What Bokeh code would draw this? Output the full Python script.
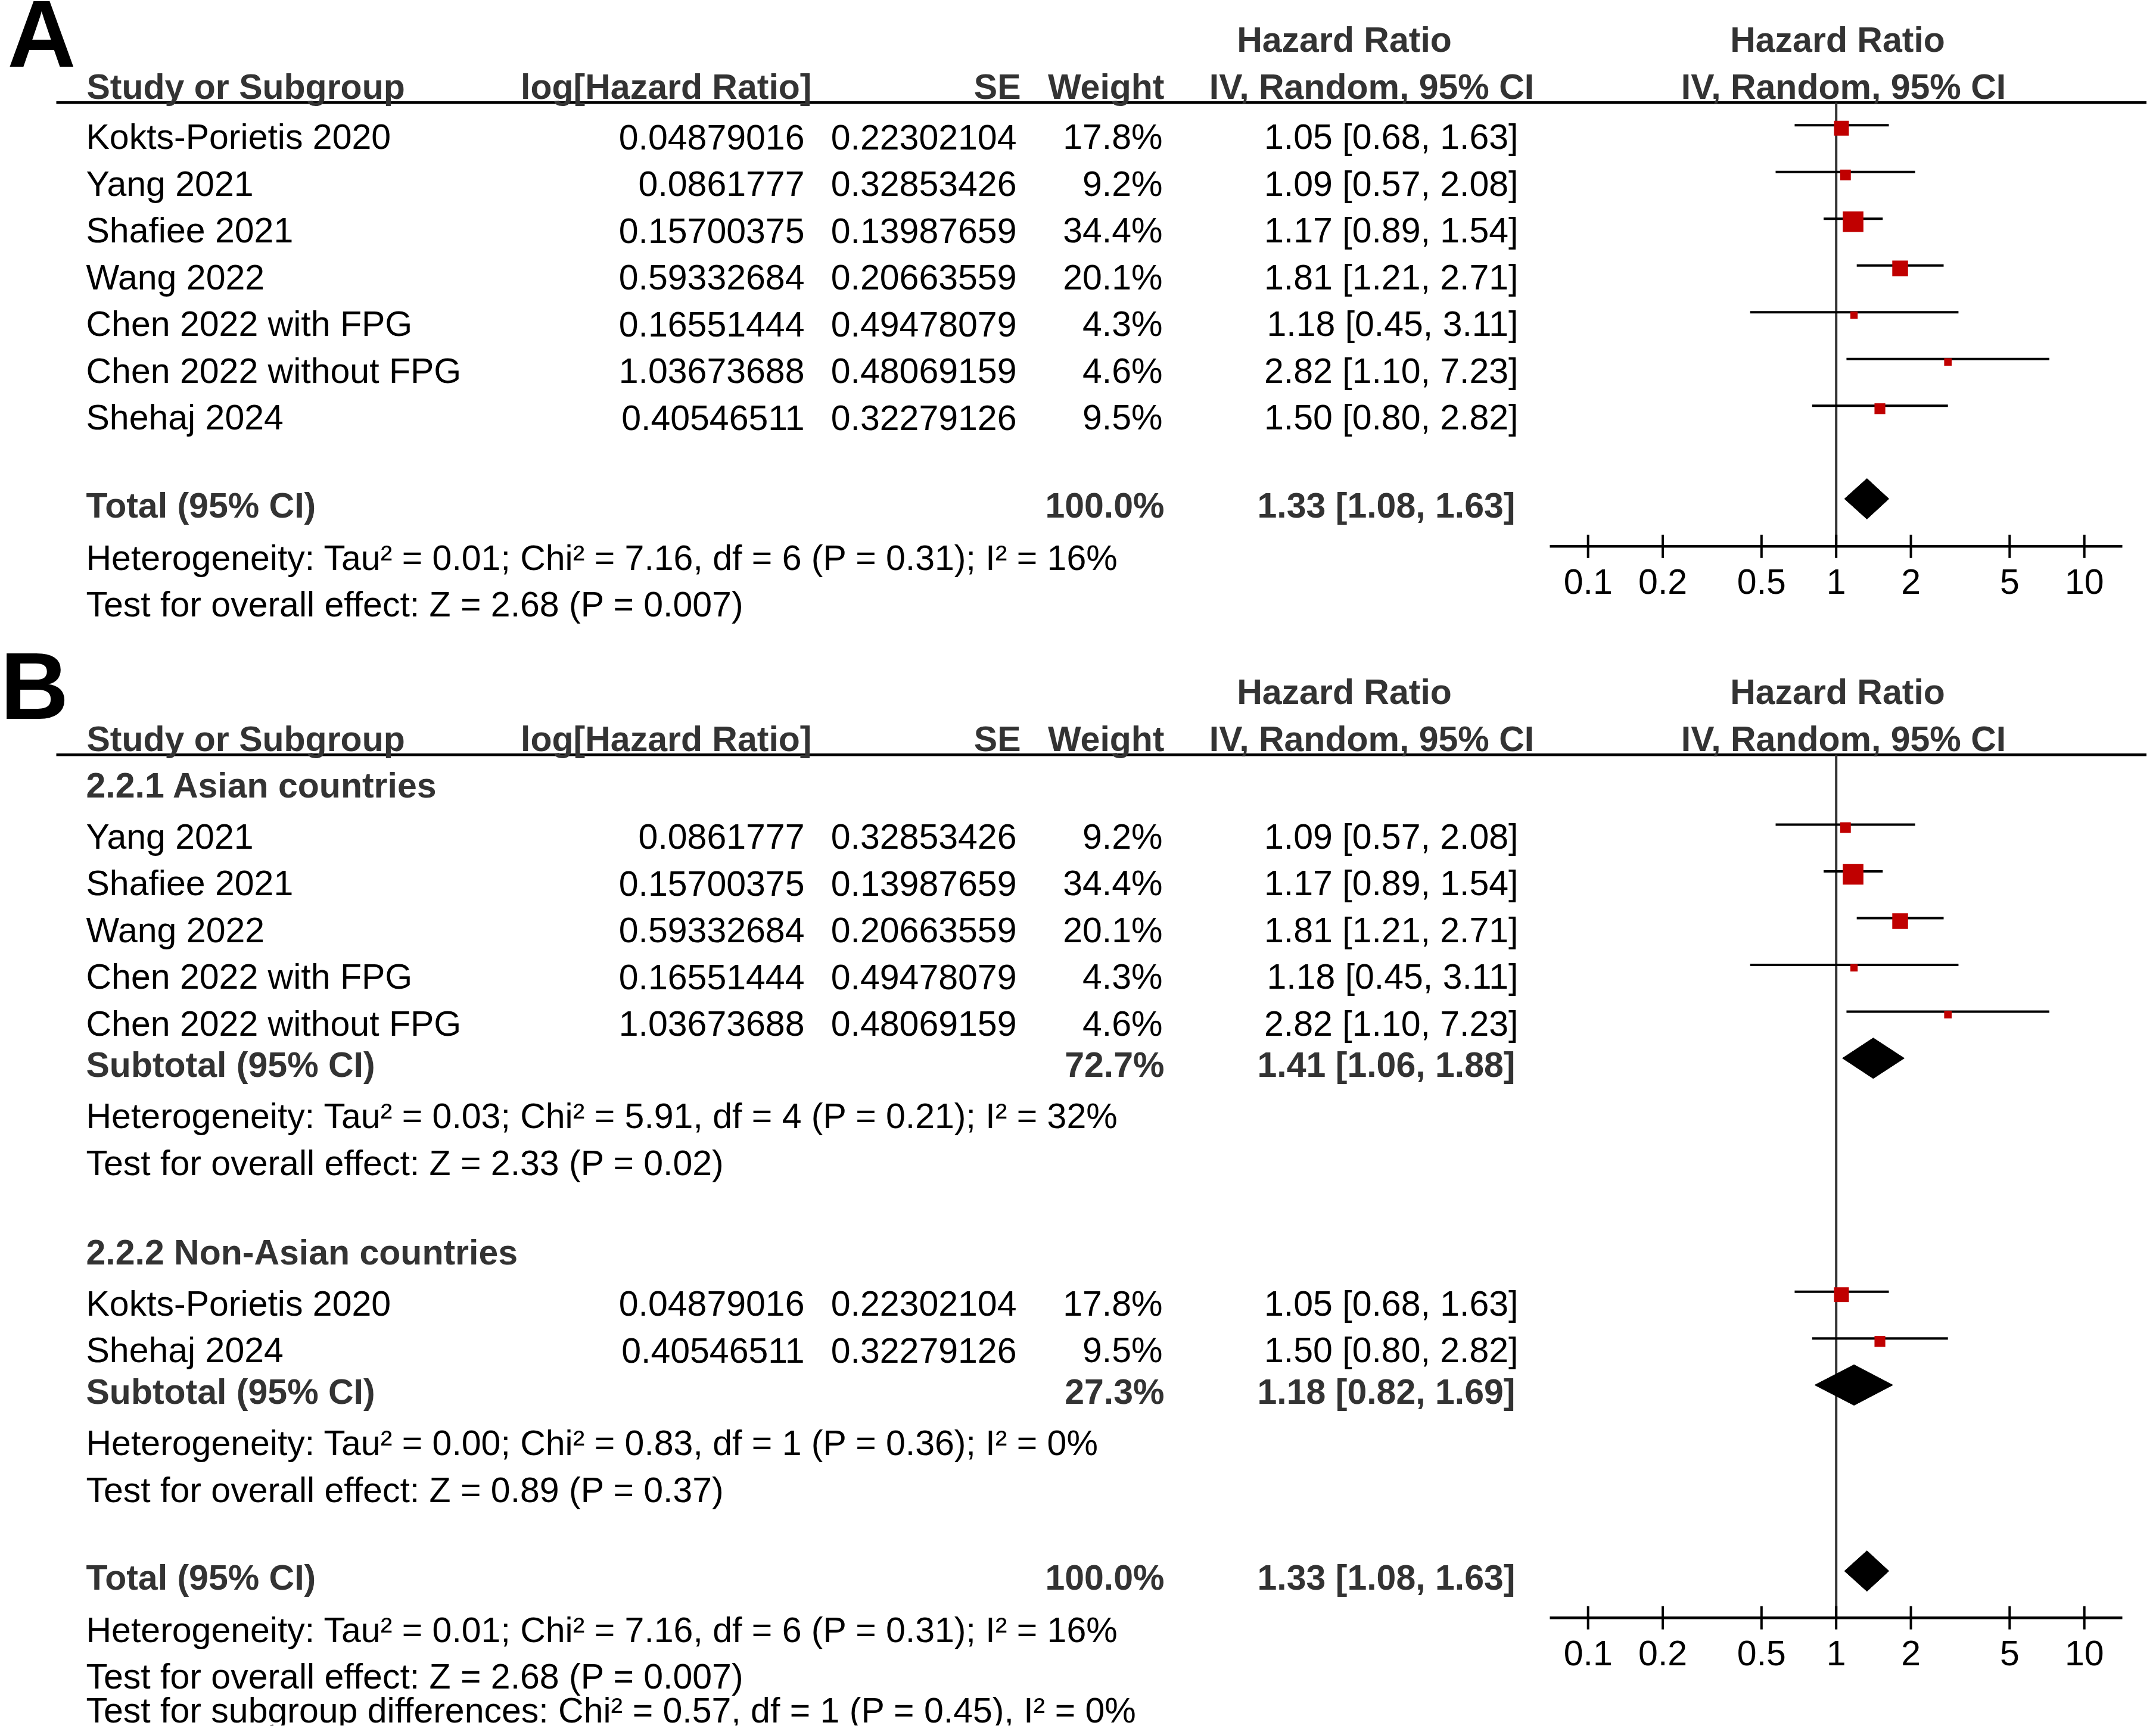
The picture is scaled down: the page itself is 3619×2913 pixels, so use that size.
import math
from bokeh.plotting import figure
from bokeh.models import Range1d, LogScale, ColumnDataSource
from bokeh.core.properties import value
from bokeh.embed import file_html
from bokeh.resources import INLINE

# ---------------- data ----------------
studies = ["Kokts-Porietis 2020", "Yang 2021", "Shafiee 2021", "Wang 2022",
           "Chen 2022 with FPG", "Chen 2022 without FPG", "Shehaj 2024"]
log_hr = [0.04879016, 0.0861777, 0.15700375, 0.59332684, 0.16551444, 1.03673688, 0.40546511]
se = [0.22302104, 0.32853426, 0.13987659, 0.20663559, 0.49478079, 0.48069159, 0.32279126]
weight = [17.8, 9.2, 34.4, 20.1, 4.3, 4.6, 9.5]
hr = [1.05, 1.09, 1.17, 1.81, 1.18, 2.82, 1.50]
ci_low = [0.68, 0.57, 0.89, 1.21, 0.45, 1.10, 0.80]
ci_high = [1.63, 2.08, 1.54, 2.71, 3.11, 7.23, 2.82]

total_weight = 100.0
total_hr = 1.33
total_low = 1.08
total_high = 1.63
total_het = "Heterogeneity: Tau\u00b2 = 0.01; Chi\u00b2 = 7.16, df = 6 (P = 0.31); I\u00b2 = 16%"
total_test = "Test for overall effect: Z = 2.68 (P = 0.007)"

group_names = ["2.2.1 Asian countries", "2.2.2 Non-Asian countries"]
group_members = [["Yang 2021", "Shafiee 2021", "Wang 2022", "Chen 2022 with FPG", "Chen 2022 without FPG"],
                 ["Kokts-Porietis 2020", "Shehaj 2024"]]
group_weight = [72.7, 27.3]
group_hr = [1.41, 1.18]
group_low = [1.06, 0.82]
group_high = [1.88, 1.69]
group_het = ["Heterogeneity: Tau\u00b2 = 0.03; Chi\u00b2 = 5.91, df = 4 (P = 0.21); I\u00b2 = 32%",
             "Heterogeneity: Tau\u00b2 = 0.00; Chi\u00b2 = 0.83, df = 1 (P = 0.36); I\u00b2 = 0%"]
group_test = ["Test for overall effect: Z = 2.33 (P = 0.02)",
              "Test for overall effect: Z = 0.89 (P = 0.37)"]
subgroup_diff = "Test for subgroup differences: Chi\u00b2 = 0.57, df = 1 (P = 0.45), I\u00b2 = 0%"

tick_values = [0.1, 0.2, 0.5, 1, 2, 5, 10]
tick_labels = ["0.1", "0.2", "0.5", "1", "2", "5", "10"]

# ---------------- layout constants (screen px) ----------------
W, H = 3603, 2897
FONT = "Liberation Sans"
FS = 59
HDR_COL = "#333333"
X_NULL = 3081.7
DECADE = 416.5
AXIS_L, AXIS_R = 2601, 3562
X_NAME = 144
X_LOG_R = 1350
X_SE_R = 1706
X_W_R = 1951
X_CI_R = 2548
PITCH = 78.5
BASE_SHIFT = 0.37  # em offset of the rendered alphabetic baseline

p = figure(width=W, height=H, x_range=Range1d(0, W), y_range=Range1d(H, 0),
           output_backend="svg", toolbar_location=None, min_border=0,
           x_axis_location=None, y_axis_location=None, title=None)
p.outline_line_color = None
p.background_fill_color = "white"
p.border_fill_color = "white"
p.grid.visible = False
p.extra_x_ranges = {"hr": Range1d(10 ** ((0 - X_NULL) / DECADE), 10 ** ((W - X_NULL) / DECADE))}
p.extra_x_scales = {"hr": LogScale()}

texts = {}


def T(x, y, s, align="left", bold=False, size=FS, color=None, rng="default"):
    col = color or (HDR_COL if bold else "black")
    key = (align, bold, size, col, rng)
    d = texts.setdefault(key, dict(x=[], y=[], t=[]))
    d["x"].append(x)
    d["y"].append(y - BASE_SHIFT * size)
    d["t"].append(s)


forest = dict(sx0=[], sx1=[], sy=[], qx=[], qy=[], qs=[], dxs=[], dys=[])


def ci_text(h, lo, hi):
    return f"{h:.2f} [{lo:.2f}, {hi:.2f}]"


def study_row(i, y):
    T(X_NAME, y, studies[i])
    T(X_LOG_R, y, str(log_hr[i]), "right")
    T(X_SE_R, y, str(se[i]), "right")
    T(X_W_R, y, f"{weight[i]:.1f}%", "right")
    T(X_CI_R, y, ci_text(hr[i], ci_low[i], ci_high[i]), "right")
    forest["sx0"].append(ci_low[i])
    forest["sx1"].append(ci_high[i])
    forest["sy"].append(y - 42)
    forest["qx"].append(hr[i])
    forest["qy"].append(y - 37)
    forest["qs"].append(5.9 * math.sqrt(weight[i]))


def pooled_row(label, w, h, lo, hi, y):
    T(X_NAME, y, label, bold=True)
    T(X_W_R + 3, y, f"{w:.1f}%", "right", bold=True)
    T(X_CI_R - 5, y, ci_text(h, lo, hi), "right", bold=True)
    yc = y - 33
    forest["dxs"].append([lo, h, hi, h])
    forest["dys"].append([yc, yc - 34, yc, yc + 34])


def header(letter, y_line):
    T(12 if letter == "A" else 0, y_line - 56, letter, bold=True, size=159, color="black")
    y1 = y_line - 83.4
    y2 = y_line - 4.7
    T(2256, y1, "Hazard Ratio", "center", bold=True)
    T(3084, y1, "Hazard Ratio", "center", bold=True)
    T(X_NAME + 1, y2, "Study or Subgroup", bold=True)
    T(1362, y2, "log[Hazard Ratio]", "right", bold=True)
    T(1713, y2, "SE", "right", bold=True)
    T(1954, y2, "Weight", "right", bold=True)
    T(2302, y2, "IV, Random, 95% CI", "center", bold=True)
    T(3094, y2, "IV, Random, 95% CI", "center", bold=True)
    p.segment(x0=[94], x1=[W], y0=[y_line], y1=[y_line], line_color="black", line_width=4.5)


def axis(y_top, y_axis):
    p.segment(x0=[1], x1=[1], y0=[y_top], y1=[y_axis], line_color="#333333", line_width=4,
              x_range_name="hr")
    p.segment(x0=[AXIS_L], x1=[AXIS_R], y0=[y_axis], y1=[y_axis], line_color="black", line_width=4.5)
    p.segment(x0=tick_values, x1=tick_values, y0=[y_axis - 19.5] * len(tick_values),
              y1=[y_axis + 19.5] * len(tick_values), line_color="black", line_width=4, x_range_name="hr")
    for v, lab in zip(tick_values, tick_labels):
        T(v, y_axis + 81.3, lab, "center", rng="hr")


# ---------------- panel A ----------------
LINE_A = 171.7
header("A", LINE_A)
y = LINE_A + 80
for i in range(len(studies)):
    study_row(i, y)
    y += PITCH
y = y - PITCH + 147.3
pooled_row("Total (95% CI)", total_weight, total_hr, total_low, total_high, y)
axis(LINE_A, y + 46.8)
T(X_NAME, y + 88, total_het)
T(X_NAME, y + 166, total_test)

# ---------------- panel B ----------------
LINE_B = 1266.7
header("B", LINE_B)
y = LINE_B + 73.3
for g in range(len(group_names)):
    T(X_NAME, y, group_names[g], bold=True)
    y += 86
    for name in group_members[g]:
        study_row(studies.index(name), y)
        y += PITCH
    y = y - PITCH + 69.2
    pooled_row("Subtotal (95% CI)", group_weight[g], group_hr[g], group_low[g], group_high[g], y)
    y += 86.5
    T(X_NAME, y, group_het[g])
    y += PITCH
    T(X_NAME, y, group_test[g])
    y += 150
y = y - 150 + 147.3
pooled_row("Total (95% CI)", total_weight, total_hr, total_low, total_high, y)
axis(LINE_B, y + 45.5)
T(X_NAME, y + 88, total_het)
T(X_NAME, y + 166, total_test)
T(X_NAME, min(y + 244, H - 4), subgroup_diff)

# ---------------- forest glyphs ----------------
p.segment(x0="sx0", x1="sx1", y0="sy", y1="sy", line_color="black", line_width=4,
          source=ColumnDataSource(dict(sx0=forest["sx0"], sx1=forest["sx1"], sy=forest["sy"])),
          x_range_name="hr")
p.scatter(x="qx", y="qy", size="qs", marker="square", fill_color="#C00000", line_color=None,
          source=ColumnDataSource(dict(qx=forest["qx"], qy=forest["qy"], qs=forest["qs"])),
          x_range_name="hr")
p.patches(xs="xs", ys="ys", fill_color="black", line_color="black", line_width=1,
          source=ColumnDataSource(dict(xs=forest["dxs"], ys=forest["dys"])), x_range_name="hr")

for (align, bold, size, col, rng), d in texts.items():
    p.text(x="x", y="y", text="t", source=ColumnDataSource(d), text_align=align,
           text_baseline="alphabetic", text_font=value(FONT), text_font_size=value(f"{size}px"),
           text_font_style="bold" if bold else "normal", text_color=col, x_range_name=rng)

open("out.html", "w").write(file_html(p, INLINE))
